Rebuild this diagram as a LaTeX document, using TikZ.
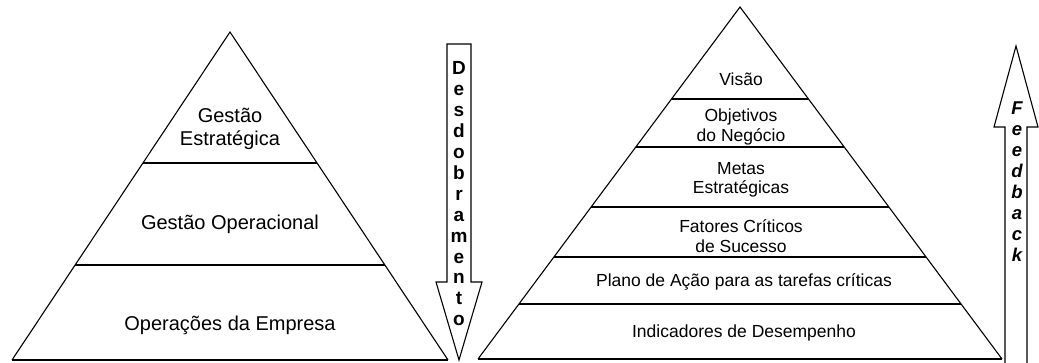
\documentclass[tikz,border=0pt]{standalone}
\usepackage{fontspec}
\setmainfont{Liberation Sans}
\usetikzlibrary{calc}
\tikzset{
  outline/.style={draw=black, line width=1.1pt, line join=miter},
  baseline/.style={draw=black, line width=1.8pt},
  divider/.style={draw=black, line width=1.1pt},
  bigtext/.style={inner sep=0pt, align=center, font=\fontsize{20}{23}\selectfont},
  smalltext/.style={inner sep=0pt, align=center, font=\fontsize{17.5}{19.5}\selectfont},
  downletter/.style={inner sep=0pt, anchor=base, font=\fontsize{19}{19}\selectfont\bfseries},
  upletter/.style={inner sep=0pt, anchor=base, font=\fontsize{18.5}{18.5}\selectfont\bfseries\itshape},
}
\begin{document}
\begin{tikzpicture}[x=1pt,y=-1pt]
\useasboundingbox (0,0) rectangle (1039,363);
% ---------- left pyramid ----------
\coordinate (LA) at (230,32);
\coordinate (LL) at (12,360);
\coordinate (LR) at (448,360);
\draw[outline] (LL) -- (LA) -- (LR);
\draw[baseline] (LL) -- (LR);
\coordinate (L1a) at ($(LA)!0.3994!(LL)$);
\coordinate (L1b) at ($(LA)!0.3994!(LR)$);
\coordinate (L2a) at ($(LA)!0.7104!(LL)$);
\coordinate (L2b) at ($(LA)!0.7104!(LR)$);
\draw[divider] (L1a) -- (L1b);
\draw[divider] (L2a) -- (L2b);
\node[bigtext] (gest) at (230,129) {Gestão\\Estratégica};
\node[bigtext] (gop) at (230,224) {Gestão Operacional};
\node[bigtext] (ope) at (230,325) {Operações da Empresa};
% ---------- down arrow ----------
\draw[outline] (447,44) -- (471,44) -- (471,282) -- (482,282) -- (459,360)
  -- (436,282) -- (447,282) -- cycle;
\foreach \l [count=\i] in {D,e,s,d,o,b,r,a,m,e,n,t,o}
  \node[downletter] (d\i) at (459,{75+20.9*(\i-1)}) {\l};
% ---------- right pyramid ----------
\coordinate (RA) at (740,7);
\coordinate (RL) at (478,359);
\coordinate (RR) at (1002,359);
\draw[outline] (RL) -- (RA) -- (RR);
\draw[baseline] (RL) -- (RR);
\foreach \t [count=\i] in {0.2614,0.3977,0.5682,0.7102,0.8438}{
  \coordinate (R\i a) at ($(RA)!\t!(RL)$);
  \coordinate (R\i b) at ($(RA)!\t!(RR)$);
  \draw[divider] (R\i a) -- (R\i b);
}
\node[smalltext] (vis) at (741,79) {Visão};
\node[smalltext] (obj) at (741,127) {Objetivos\\do Negócio};
\node[smalltext] (met) at (741,180) {Metas\\Estratégicas};
\node[smalltext] (fat) at (741,236) {Fatores Críticos\\de Sucesso};
\node[smalltext] (pla) at (744,282) {Plano de Ação para as tarefas críticas};
\node[smalltext] (ind) at (744,333) {Indicadores de Desempenho};
% ---------- up arrow ----------
\draw[outline] (1005,365) -- (1005,127) -- (994,127) -- (1016,46) -- (1038,127)
  -- (1027,127) -- (1027,365);
\foreach \l [count=\i] in {F,e,e,d,b,a,c,k}
  \node[upletter] (f\i) at (1017,{114.5+21*(\i-1)}) {\l};
\end{tikzpicture}
\end{document}
